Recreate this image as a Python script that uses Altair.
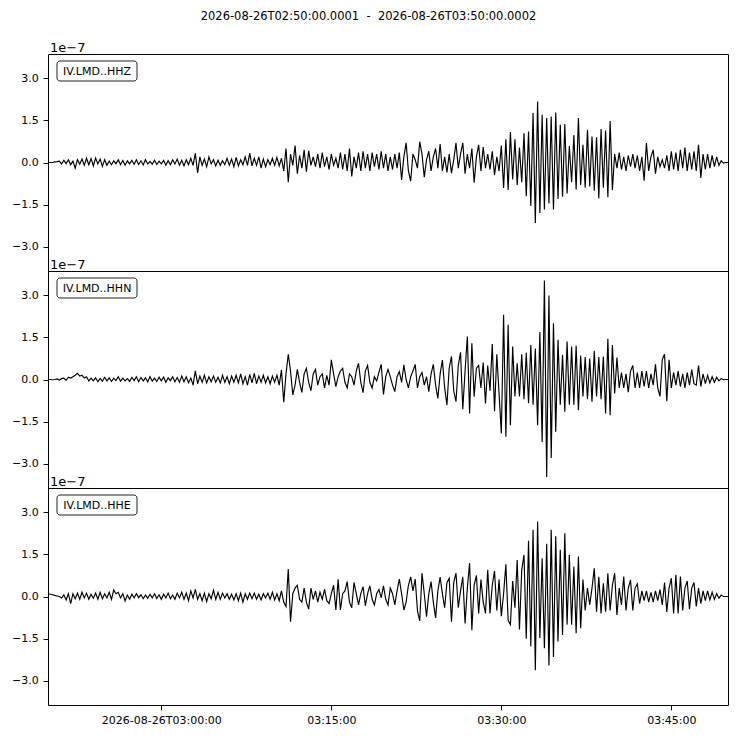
import altair as alt
import pandas as pd

# ---------------- data (amplitudes in units of 1e-7, one sample every 12 s) ----------------
START = "2026-08-26T02:50:00"
DELTA_S = 12
CHANNELS = ["IV.LMD..HHZ", "IV.LMD..HHN", "IV.LMD..HHE"]
EXPONENT = "1e\u22127"
TITLE = "2026-08-26T02:50:00.0001\u00a0\u00a0-\u00a0\u00a02026-08-26T03:50:00.0002"
Y_TICKS = [-3.0, -1.5, 0.0, 1.5, 3.0]
Y_MAX = 3.86

HHZ = [
    0.0, 0.0, 0.0, 0.02, 0.03, 0.05, -0.05, 0.08, -0.04, 0.1,
    -0.08, 0.05, -0.2, 0.1, -0.06, 0.12, -0.1, 0.15, -0.08, 0.14,
    -0.12, 0.16, -0.05, 0.12, -0.14, 0.1, -0.1, 0.05, -0.08, 0.06,
    -0.04, 0.1, -0.08, 0.07, -0.1, 0.06, -0.05, 0.08, -0.06, 0.1,
    -0.07, 0.06, -0.09, 0.1, -0.05, 0.04, -0.06, 0.08, -0.07, 0.05,
    -0.05, 0.07, -0.1, 0.06, -0.08, 0.1, -0.05, 0.12, -0.1, 0.08,
    -0.12, 0.1, -0.08, 0.15, -0.1, 0.33, -0.37, 0.2, -0.1, 0.12,
    -0.15, 0.2, -0.05, 0.1, -0.12, 0.08, -0.1, 0.06, -0.08, 0.15,
    -0.1, 0.12, -0.15, 0.18, -0.12, 0.1, -0.08, 0.2, -0.1, 0.33,
    -0.12, 0.15, -0.1, 0.2, -0.2, 0.12, -0.15, 0.1, -0.08, 0.15,
    -0.1, 0.18, -0.12, 0.15, -0.3, 0.5, -0.7, 0.3, -0.1, 0.6,
    -0.4, 0.25, -0.2, 0.45, -0.33, 0.42, -0.1, 0.2, -0.15, 0.3,
    -0.2, 0.35, -0.15, 0.2, -0.25, 0.3, -0.1, 0.15, -0.2, 0.35,
    -0.25, 0.3, -0.3, 0.5, -0.5, 0.2, -0.2, 0.35, -0.3, 0.4,
    -0.2, 0.3, -0.3, 0.35, -0.15, 0.3, -0.25, 0.4, -0.2, 0.3,
    -0.3, 0.2, -0.25, 0.3, -0.2, 0.35, -0.62, 0.2, 0.7, -0.3,
    -0.66, 0.3, 0.1, -0.2, 0.74, 0.3, -0.52, 0.1, 0.4, -0.3,
    0.2, 0.5, -0.2, 0.66, -0.3, 0.2, -0.35, 0.3, -0.38, 0.1,
    0.7, -0.2, 0.3, 0.7, -0.4, 0.3, -0.2, 0.5, -0.72, 0.2,
    0.63, -0.3, 0.55, -0.2, 0.3, -0.25, 0.4, -0.45, 0.2, -0.3,
    0.6, -0.91, 0.83, -0.98, 1.08, -0.6, 0.83, -0.8, 0.53, -0.7,
    1.04, -1.2, 1.1, -1.55, 1.76, -2.15, 2.17, -1.8, 1.7, -1.67,
    1.58, -1.46, 1.64, -1.67, 1.78, -1.3, 1.34, -1.22, 1.37, -1.1,
    0.59, -0.7, 0.98, -0.96, 1.58, -0.8, 0.63, -0.9, 1.16, -0.85,
    0.92, -1.0, 0.9, -1.28, 1.19, -0.9, 1.14, -1.24, 1.48, -0.98,
    0.3, -0.2, 0.35, -0.25, 0.2, -0.3, 0.25, -0.15, 0.3, -0.2,
    0.25, -0.3, 0.2, -0.65, 0.69, -0.3, 0.2, 0.45, -0.4, 0.2,
    -0.15, 0.1, -0.2, 0.25, -0.3, 0.4, -0.25, 0.35, -0.3, 0.45,
    -0.2, 0.53, -0.3, 0.35, -0.25, 0.4, -0.3, 0.63, -0.55, 0.3,
    -0.25, 0.3, -0.2, 0.25, -0.15, 0.2, -0.1, 0.06, -0.02, 0.0,
    0.0,
]

HHN = [
    0.0, 0.0, -0.01, 0.0, 0.02, -0.02, 0.03, 0.05, -0.03, 0.08,
    0.05, 0.1, 0.15, 0.22, 0.12, 0.15, 0.05, 0.1, -0.05, 0.05,
    -0.05, 0.06, -0.08, 0.04, -0.06, 0.08, -0.05, 0.06, -0.07, 0.05,
    -0.04, 0.1, -0.06, 0.05, -0.05, 0.03, -0.07, 0.08, -0.04, 0.1,
    -0.08, 0.07, -0.05, 0.06, -0.09, 0.1, -0.06, 0.05, -0.07, 0.08,
    -0.05, 0.09, -0.1, 0.06, -0.04, 0.1, -0.08, 0.07, -0.1, 0.12,
    -0.08, 0.1, -0.12, 0.05, -0.2, 0.31, -0.15, 0.12, -0.1, 0.15,
    -0.12, 0.1, -0.08, 0.12, -0.1, 0.08, -0.12, 0.15, -0.1, 0.1,
    -0.15, 0.12, -0.1, 0.15, -0.12, 0.2, -0.15, 0.1, -0.2, 0.18,
    -0.12, 0.22, -0.15, 0.12, -0.1, 0.15, -0.12, 0.1, -0.15, 0.12,
    -0.1, 0.15, -0.2, 0.34, -0.81, 0.2, 0.9, 0.3, -0.55, -0.2,
    0.36, -0.1, -0.46, 0.2, 0.4, -0.1, -0.4, 0.2, 0.36, -0.2,
    0.1, 0.2, -0.3, 0.15, -0.2, 0.7, 0.2, -0.25, 0.1, 0.3,
    0.4, -0.1, -0.3, 0.2, 0.1, -0.2, 0.3, 0.58, -0.1, -0.47,
    0.3, 0.5, -0.1, -0.3, 0.1, -0.05, 0.25, 0.54, -0.53, 0.1,
    0.36, 0.1, -0.2, -0.43, 0.1, 0.28, -0.1, 0.52, 0.0, -0.3,
    0.1, 0.3, 0.54, -0.3, 0.1, 0.25, -0.2, 0.1, -0.43, 0.2,
    0.54, -0.2, -0.67, 0.2, 0.69, -0.3, -0.91, 0.4, 0.82, -0.4,
    -0.79, 0.5, 0.97, -1.06, 0.3, 1.53, -1.21, 1.29, -0.61, 0.4,
    0.5, -0.3, 0.6, -0.85, 0.5, -0.4, 1.26, -1.13, 0.9, -0.5,
    -1.92, 2.3, -2.04, 1.95, -1.63, 1.17, -0.6, 0.58, -0.6, 0.9,
    -0.7, 0.95, -0.84, 1.23, -0.9, 1.1, -1.63, 1.69, -2.22, 3.52,
    -3.47, 2.99, -2.79, 2.0, -1.86, 1.41, -0.9, 0.88, -1.15, 1.35,
    -0.9, 1.17, -0.9, 1.2, -1.09, 0.85, -0.6, 0.8, -0.7, 0.75,
    -0.79, 1.02, -0.6, 0.8, -0.7, 0.82, -1.21, 1.45, -1.27, 1.23,
    -0.5, 0.78, -0.3, 0.25, -0.3, 0.2, -0.45, 0.3, 0.5, -0.3,
    0.25, -0.3, 0.3, -0.25, 0.3, -0.3, 0.2, -0.2, 0.54, -0.3,
    -0.6, 0.71, 0.9, -0.77, 0.7, -0.3, 0.25, -0.2, 0.3, -0.25,
    0.2, -0.3, 0.25, -0.2, 0.35, -0.15, -0.2, 0.5, -0.25, 0.2,
    -0.15, 0.15, -0.12, 0.1, -0.1, 0.08, -0.05, 0.03, -0.01, 0.0,
    0.0,
]

HHE = [
    0.1, 0.08, 0.06, 0.04, 0.02, 0.0, -0.05, 0.06, -0.12, 0.1,
    -0.25, 0.1, -0.08, 0.12, -0.1, 0.15, -0.05, 0.12, -0.1, 0.08,
    -0.06, 0.12, -0.1, 0.15, -0.08, 0.1, -0.05, 0.15, -0.1, 0.23,
    0.1, 0.15, -0.05, 0.1, -0.16, 0.05, -0.1, 0.08, -0.05, 0.1,
    -0.04, 0.06, -0.08, 0.05, -0.06, 0.08, -0.05, 0.1, -0.07, 0.06,
    -0.1, 0.08, -0.05, 0.12, -0.08, 0.05, -0.1, 0.12, -0.05, 0.15,
    -0.1, 0.12, -0.15, 0.2, -0.05, 0.25, -0.1, 0.1, -0.15, 0.12,
    -0.18, 0.1, -0.08, 0.22, -0.1, 0.15, -0.1, 0.12, -0.05, 0.1,
    -0.1, 0.08, -0.12, 0.1, -0.15, 0.12, -0.2, 0.1, -0.1, 0.12,
    -0.08, 0.12, -0.1, 0.08, -0.12, 0.1, -0.05, 0.12, -0.1, 0.15,
    -0.12, 0.1, -0.15, 0.2, -0.2, -0.36, 0.98, -0.9, 0.1, 0.3,
    0.4, -0.1, -0.2, 0.3, -0.2, -0.45, 0.3, -0.1, 0.2, -0.2,
    0.15, -0.1, 0.25, -0.15, -0.25, 0.1, 0.4, -0.48, 0.61, -0.48,
    0.1, 0.2, 0.53, -0.2, -0.4, 0.5, 0.1, -0.3, 0.1, 0.35,
    -0.33, 0.1, 0.38, -0.1, -0.3, 0.1, 0.25, -0.05, 0.38, -0.1,
    -0.3, 0.3, 0.1, -0.3, 0.2, 0.62, 0.1, -0.48, -0.2, 0.4,
    0.7, 0.2, 0.62, -0.5, -0.87, 0.83, 0.1, -0.72, 0.1, 0.53,
    -0.2, -0.76, 0.2, 0.69, 0.1, -0.4, 0.5, 0.65, -0.9, 0.5,
    0.83, -0.4, 0.2, 0.7, -0.96, 0.3, 1.19, -1.2, 0.4, 0.75,
    -0.6, 0.6, -0.2, -0.6, 0.95, -0.6, 0.4, 0.91, -0.5, 0.6,
    -0.7, 0.1, 1.15, -0.85, -1.0, 0.55, -0.4, 1.3, -1.17, 0.94,
    1.48, -1.5, 1.98, -1.78, 2.37, -2.62, 2.67, -1.48, 1.36, -1.84,
    1.88, -2.45, 2.37, -2.15, 2.14, -1.6, 1.66, -1.37, 2.25, -1.0,
    1.48, -1.0, 1.07, -1.31, 1.42, -1.13, 0.6, -0.5, 0.3, -0.3,
    0.3, 1.0, -0.54, 0.7, -0.6, 0.47, -0.54, 0.83, -0.5, 0.4,
    0.83, -0.66, 0.3, -0.3, 0.71, -0.5, 0.3, 0.59, -0.5, 0.3,
    0.45, -0.25, 0.2, -0.15, 0.2, -0.2, 0.15, -0.2, 0.2, -0.15,
    0.25, -0.3, 0.5, -0.55, 0.3, 0.65, -0.6, 0.77, -0.6, 0.71,
    -0.5, 0.3, 0.55, -0.45, 0.3, 0.5, -0.35, 0.3, -0.25, 0.2,
    -0.15, 0.2, -0.12, 0.15, -0.1, 0.1, -0.06, 0.05, 0.0, 0.0,
    0.0,
]

TRACES = [HHZ, HHN, HHE]

# ---------------- chart ----------------
FONT = "DejaVu Sans"
PANEL_W, PANEL_H = 680, 217
TICK = 4.9

times = pd.date_range(START, periods=len(HHZ), freq=f"{DELTA_S}s")

x_domain = [
    alt.DateTime(year=2026, month=8, date=26, hours=2, minutes=50),
    alt.DateTime(year=2026, month=8, date=26, hours=3, minutes=50),
]
x_ticks = [
    alt.DateTime(year=2026, month=8, date=26, hours=3, minutes=m)
    for m in (0, 15, 30, 45)
]


def panel(values, name, bottom):
    df = pd.DataFrame({"time": times, "amp": values})
    if bottom:
        x_axis = alt.Axis(
            values=x_ticks,
            labelExpr="datum.index == 0 ? timeFormat(datum.value, '%Y-%m-%dT%H:%M:%S') : timeFormat(datum.value, '%H:%M:%S')",
            title=None, grid=False, domain=False, tickSize=TICK, tickColor="black",
            labelPadding=TICK, labelFontSize=11, labelColor="black", labelFont=FONT,
        )
    else:
        x_axis = None
    line = alt.Chart(df).mark_line(color="black", strokeWidth=1.15, clip=True).encode(
        x=alt.X("time:T", scale=alt.Scale(domain=x_domain), axis=x_axis),
        y=alt.Y(
            "amp:Q",
            scale=alt.Scale(domain=[-Y_MAX, Y_MAX], nice=False, zero=False),
            axis=alt.Axis(
                values=Y_TICKS, format=".1f", title=None, grid=False, domain=False,
                tickSize=TICK, tickColor="black", labelPadding=TICK, labelFontSize=11,
                labelColor="black", labelFont=FONT, minExtent=39, maxExtent=39,
            ),
        ),
    )
    lab = pd.DataFrame({"label": [name], "exp": [EXPONENT]})
    box = alt.Chart(lab).mark_rect(
        fill="white", stroke="#222222", strokeWidth=1, cornerRadius=3
    ).encode(x=alt.value(9), x2=alt.value(89), y=alt.value(7), y2=alt.value(27))
    txt = alt.Chart(lab).mark_text(
        font=FONT, fontSize=11, align="center", baseline="middle", color="black"
    ).encode(x=alt.value(49), y=alt.value(17.5), text="label:N")
    exp = alt.Chart(lab).mark_text(
        font=FONT, fontSize=13, align="left", baseline="alphabetic", color="black"
    ).encode(x=alt.value(2), y=alt.value(-2), text="exp:N")
    return alt.layer(line, box, txt, exp).properties(
        width=PANEL_W, height=PANEL_H,
        view=alt.ViewBackground(stroke="black", strokeWidth=1),
    )


panels = [panel(v, n, i == len(TRACES) - 1) for i, (v, n) in enumerate(zip(TRACES, CHANNELS))]

chart = alt.vconcat(*panels, spacing=0, bounds="flush").properties(
    title=alt.TitleParams(
        TITLE, font=FONT, fontSize=11.5, fontWeight="normal", color="black",
        anchor="middle", offset=19,
    ),
    padding={"left": 0, "top": 3, "right": 0, "bottom": 0},
).configure_view(stroke="black", strokeWidth=1).configure(background="white")

chart.save("out.html", embed_options={"renderer": "svg", "actions": False})
